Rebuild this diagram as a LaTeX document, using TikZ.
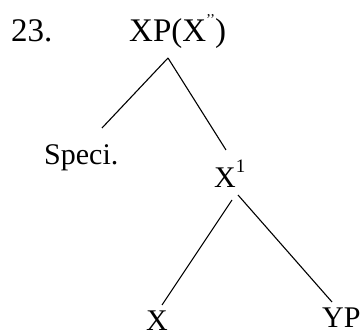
\documentclass[tikz,border=0pt]{standalone}
\usepackage{fontspec}
\setmainfont{Liberation Serif}

\tikzset{
  lbl/.style={inner sep=0pt, anchor=base west, font=\fontsize{30}{36}\selectfont},
  toplbl/.style={lbl, font=\fontsize{33}{40}\selectfont},
  branch/.style={line width=1.1pt}
}

\begin{document}
\begin{tikzpicture}[x=1pt,y=1pt]
    \useasboundingbox (0,0) rectangle (361,334);
    \node[toplbl] (num) at (11,292) {23.};
    \node[toplbl] (xp) at (129,292) {XP(X\raisebox{17pt}{\fontsize{15}{15}\selectfont ’’})};
    \node[lbl] (spec) at (44,169) {Speci.};
    \node[lbl] (xbar) at (214,146) {X\raisebox{15pt}{\fontsize{19}{19}\selectfont 1}};
    \node[lbl] (x) at (146,3) {X};
    \node[lbl] (yp) at (322,6) {YP};
    % branches
    \draw[branch] ([shift={(39,-16)}]xp.base west) -- ([shift={(58,37)}]spec.base west);
    \draw[branch] ([shift={(39,-16)}]xp.base west) -- ([shift={(12,38)}]xbar.base west);
    \draw[branch] ([shift={(18,-12)}]xbar.base west) -- ([shift={(16,26)}]x.base west);
    \draw[branch] ([shift={(24,-7)}]xbar.base west) -- ([shift={(10,26)}]yp.base west);
  \end{tikzpicture}
\end{document}
